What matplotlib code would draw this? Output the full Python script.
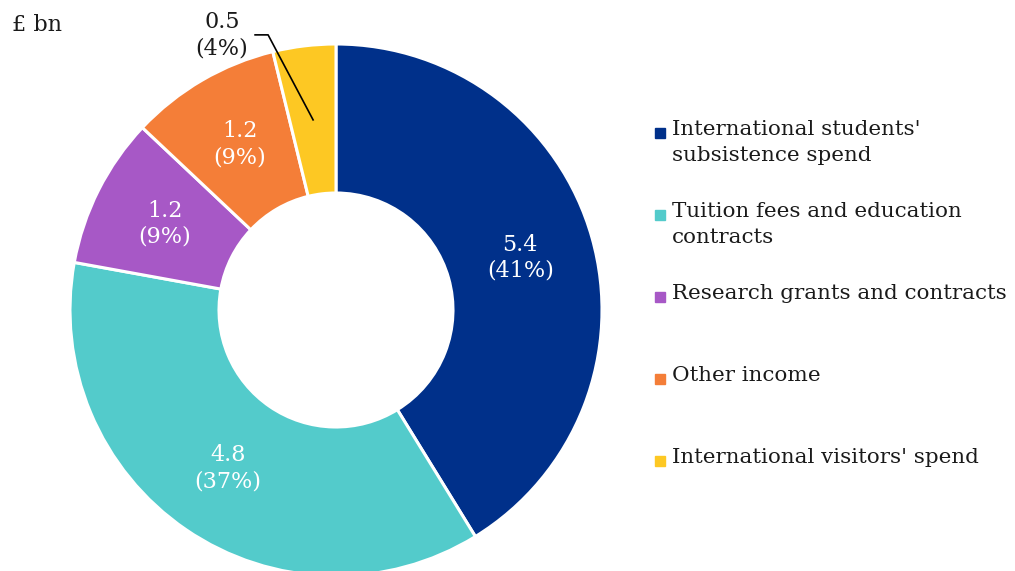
import numpy as np
import matplotlib
matplotlib.use("Agg")
import matplotlib.pyplot as plt

categories = ["International students'\nsubsistence spend",
              "Tuition fees and education\ncontracts",
              "Research grants and contracts",
              "Other income",
              "International visitors' spend"]
values = [5.4, 4.8, 1.2, 1.2, 0.5]
value_labels = ["5.4", "4.8", "1.2", "1.2", "0.5"]
pct_labels = ["(41%)", "(37%)", "(9%)", "(9%)", "(4%)"]
colors = ["#00308A", "#53CBCB", "#A758C6", "#F47E38", "#FDC823"]

plt.rcParams['font.family'] = ['DejaVu Serif']
W, H = 1015, 571
fig = plt.figure(figsize=(W / 100, H / 100), dpi=100)
ax = fig.add_axes([0, 0, 1, 1])

cx, cy = 336, H - 310
R, r_in = 266, 117
wedges, _ = ax.pie(values, colors=colors, startangle=90, counterclock=False,
                   center=(cx, cy), radius=R,
                   wedgeprops=dict(width=R - r_in, edgecolor="white", linewidth=2.2))
ax.set_xlim(0, W)
ax.set_ylim(0, H)
ax.set_aspect('auto')
ax.axis('off')

rmid = (R + r_in) / 2
fs = 16
for i, w in enumerate(wedges):
    ang = np.deg2rad((w.theta1 + w.theta2) / 2)
    px, py = cx + rmid * np.cos(ang), cy + rmid * np.sin(ang)
    txt = value_labels[i] + "\n" + pct_labels[i]
    if i < 4:
        ax.text(px, py, txt, color="white", ha="center", va="center",
                fontsize=fs, linespacing=1.25)
    else:
        ax.text(px - 91, py + 85, txt,
                ha="center", va="center", fontsize=fs, linespacing=1.25,
                color="#1a1a1a")
        ax.plot([px - 58, px - 45, px], [py + 85, py + 85, py],
                color="black", lw=1.2)

ax.text(12, H - 25, "£ bn", fontsize=fs, va="center", ha="left", color="#1a1a1a")

# legend
ly0 = H - 133
for i, lab in enumerate(categories):
    y = ly0 - 82 * i
    ax.plot([660], [y], marker="s", markersize=7, color=colors[i], linestyle="none")
    ax.text(672, y + 13, lab, fontsize=15.4, va="top", ha="left",
            color="#1a1a1a", linespacing=1.45)

fig.savefig("out.png", dpi=100)
